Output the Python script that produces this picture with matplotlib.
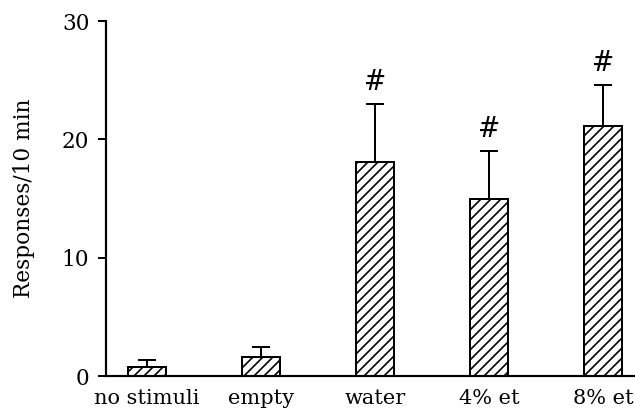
import numpy as np
import matplotlib.pyplot as plt

# Datos
categorias = ['no stimuli', 'empty', 'water', '4% et', '8% et']
respuestas = [0.75, 1.6, 18.1, 15.0, 21.1]
errores = [0.6, 0.9, 4.9, 4.0, 3.5]
significativo = [False, False, True, True, True]

plt.rcParams['font.family'] = ['DejaVu Serif']
plt.rcParams['hatch.linewidth'] = 1.0

dpi = 120
fig = plt.figure(figsize=(635 / dpi, 412 / dpi), dpi=dpi)
ax = fig.add_axes([0.167, 0.087, 0.833, 0.862])

x = np.arange(len(categorias))
ax.bar(x, respuestas, width=0.34, color='white', edgecolor='black',
       linewidth=1.2, hatch='////', zorder=2)
ax.errorbar(x, respuestas, yerr=[np.zeros(len(errores)), errores], fmt='none',
            ecolor='black', elinewidth=1.2, capsize=5.5, capthick=1.2, zorder=1)

# Marcas de significancia sobre las barras de error
for i, s in enumerate(significativo):
    if s:
        ax.annotate('#', (x[i], respuestas[i] + errores[i]), xytext=(0, 5),
                    textcoords='offset points', ha='center', va='bottom',
                    fontsize=16)

ax.set_xlim(-0.36, 4.28)
ax.set_ylim(0, 30)
ax.set_yticks([0, 10, 20, 30])
ax.set_xticks(x)
ax.set_xticklabels(categorias, fontsize=12.5)
ax.tick_params(axis='x', length=0, pad=8)
ax.tick_params(axis='y', length=5, width=1.2, pad=5, labelsize=13)
ax.set_ylabel('Responses/10 min', fontsize=13, labelpad=16)

ax.spines['right'].set_visible(False)
ax.spines['top'].set_visible(False)
ax.spines['left'].set_linewidth(1.3)
ax.spines['bottom'].set_linewidth(1.3)

plt.savefig('out.png', dpi=dpi)
